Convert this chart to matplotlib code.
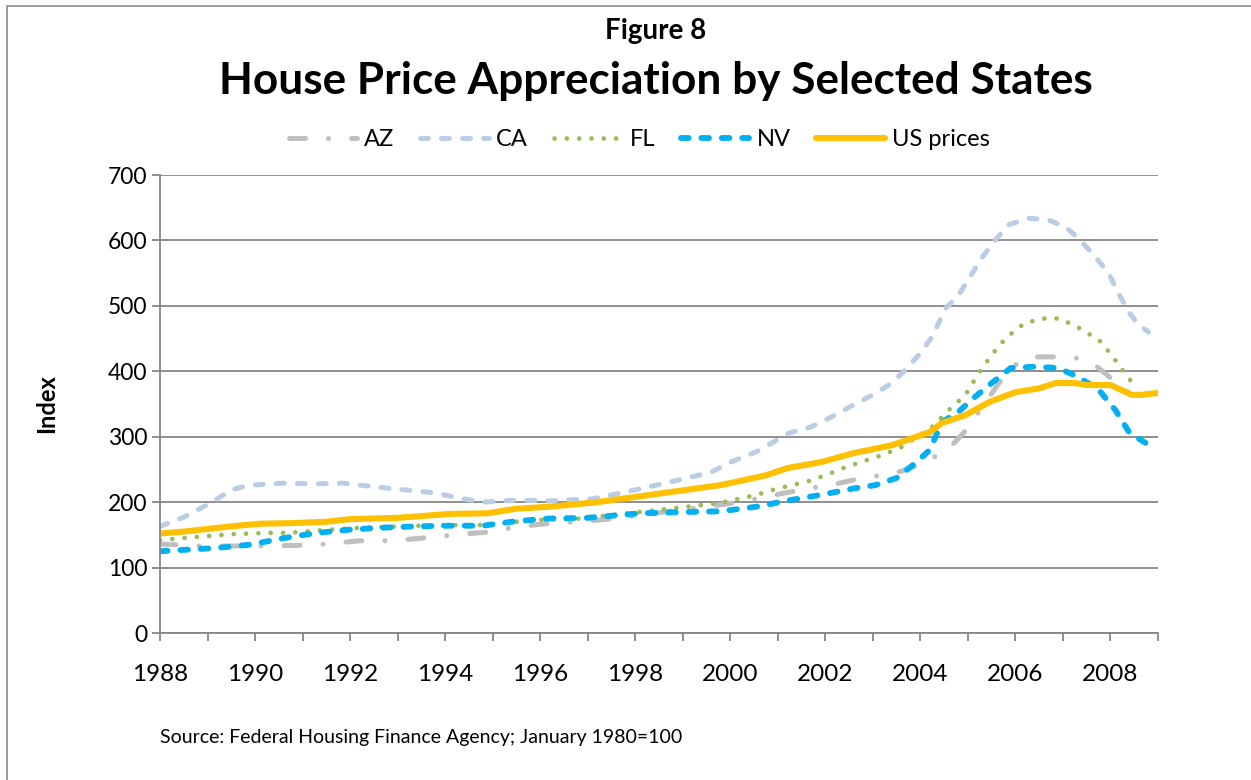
import matplotlib
matplotlib.use("Agg")
import matplotlib.pyplot as plt
from matplotlib.patches import Rectangle
from matplotlib.ticker import MultipleLocator

plt.rcParams['font.family'] = ['Lato', 'DejaVu Sans']

# --- data (index, January 1980 = 100) ---
az_x = [1988.0, 1988.85, 1989.5, 1990.15, 1990.9, 1991.5, 1992.2, 1992.9, 1993.5, 1994.2,
        1994.85, 1995.5, 1996.1, 1996.8, 1997.45, 1998.15, 1998.9, 1999.5, 2000.2, 2000.8,
        2001.5, 2002.1, 2002.6, 2003.5, 2004.1, 2004.65, 2005.0, 2005.15, 2005.45, 2005.8,
        2006.0, 2006.4, 2007.05, 2007.3, 2007.7, 2008.1, 2008.4, 2008.7]
az_y = [136, 133, 133, 133, 134, 136, 141, 141, 145, 150,
        154, 162, 167, 170, 174, 180, 188, 193, 200, 209,
        219, 226, 234, 245, 260, 286, 313, 330, 361, 397,
        410, 422, 422, 420, 408, 384, 367, 344]

ca_x = [1988.0, 1988.5, 1989.1, 1989.5, 1989.9, 1990.6, 1991.3, 1991.85, 1992.7, 1993.4,
        1993.8, 1994.3, 1994.8, 1995.5, 1996.2, 1997.1, 1997.7, 1998.45, 1999.1, 1999.6,
        2000.0, 2000.55, 2001.25, 2001.7, 2002.1, 2002.6, 2003.0, 2003.4, 2003.75, 2004.0,
        2004.25, 2004.53, 2004.81, 2005.05, 2005.3, 2005.58, 2005.86, 2006.28, 2006.7, 2007.05,
        2007.33, 2007.68, 2007.96, 2008.17, 2008.38, 2008.59, 2008.8]
ca_y = [163, 177, 200, 219, 226, 229, 228, 229, 222, 217,
        214, 206, 200, 203, 202, 205, 214, 226, 237, 246,
        261, 277, 306, 315, 329, 349, 364, 382, 407, 428,
        453, 496, 517, 545, 574, 601, 624, 634, 631, 621,
        603, 575, 550, 519, 491, 471, 460]

fl_x = [1988.0, 1988.8, 1989.5, 1990.25, 1990.7, 1991.2, 1992.0, 1992.7, 1993.45, 1994.15,
        1994.8, 1995.5, 1996.2, 1996.7, 1998.1, 1999.1, 1999.8, 2000.55, 2001.0, 2001.6,
        2002.0, 2002.45, 2002.7, 2003.2, 2003.6, 2004.25, 2004.6, 2004.95, 2005.2, 2005.5,
        2005.8, 2006.2, 2006.7, 2006.95, 2007.4, 2007.8, 2008.1, 2008.25, 2008.55]
fl_y = [142, 147, 151, 153, 153, 156, 160, 162, 164, 165,
        165, 170, 174, 174, 185, 193, 199, 211, 221, 231,
        241, 254, 260, 272, 284, 315, 341, 364, 394, 425,
        451, 474, 482, 480, 464, 445, 417, 402, 374]

nv_x = [1988.0, 1989.2, 1989.9, 1990.6, 1991.3, 1992.0, 1992.7, 1993.4, 1994.1, 1994.8,
        1995.5, 1996.2, 1997.0, 1998.1, 1999.1, 1999.8, 2000.55, 2001.25, 2001.9, 2002.6,
        2003.05, 2003.5, 2003.9, 2004.2, 2004.45, 2004.8, 2005.15, 2005.5, 2005.9, 2006.4,
        2006.9, 2007.3, 2007.75, 2008.1, 2008.4, 2008.75]
nv_y = [125, 130, 135, 145, 153, 158, 161, 163, 164, 164,
        171, 175, 176, 183, 185, 186, 193, 203, 211, 221,
        226, 237, 260, 280, 322, 338, 361, 382, 405, 407,
        405, 392, 372, 341, 306, 290]

us_x = [1988.0, 1988.5, 1989.0, 1989.5, 1990.1, 1990.8, 1991.5, 1992.0, 1993.0, 1994.1,
        1994.9, 1995.5, 1996.2, 1997.2, 1998.1, 1999.0, 1999.8, 2000.75, 2001.2, 2001.9,
        2002.6, 2003.4, 2004.2, 2004.45, 2004.95, 2005.45, 2006.0, 2006.5, 2006.85, 2007.25,
        2007.5, 2008.0, 2008.45, 2008.65, 2009.0]
us_y = [152, 155, 159, 163, 167, 168, 170, 174, 176, 182,
        183, 190, 193, 200, 209, 218, 226, 241, 252, 261,
        275, 287, 307, 321, 333, 353, 368, 374, 382, 382,
        379, 379, 364, 364, 367]

fig = plt.figure(figsize=(12.51, 7.8), dpi=100)
ax = fig.add_axes([160 / 1251, 1 - 633 / 780, 998 / 1251, 458 / 780])

# outer chart border
fig.patches.append(Rectangle((7 / 1251, -0.05), 1.1, 1 - 6 / 780 + 0.05,
                             transform=fig.transFigure, fill=False,
                             edgecolor='#8c8c8c', linewidth=1.2))

ax.plot(az_x, az_y, color='#BFBFBF', lw=3.6, dashes=(3.2, 4.6, 0.01, 4.6),
        dash_capstyle='round', label='AZ')
ax.plot(ca_x, ca_y, color='#B9CDE5', lw=3.6, dashes=(1.6, 2.6),
        dash_capstyle='round', label='CA')
ax.plot(fl_x, fl_y, color='#9BBB59', lw=3.4, dashes=(0.01, 2.6),
        dash_capstyle='round', label='FL')
ax.plot(nv_x, nv_y, color='#00B0F0', lw=4.2, dashes=(1.3, 2.2),
        dash_capstyle='round', label='NV')
ax.plot(us_x, us_y, color='#FFC000', lw=4.4, solid_capstyle='round', label='US prices')

ax.set_xlim(1988, 2009)
ax.set_ylim(0, 700)
ax.xaxis.set_major_locator(MultipleLocator(2))
ax.xaxis.set_minor_locator(MultipleLocator(1))
ax.yaxis.set_major_locator(MultipleLocator(100))
ax.grid(axis='y', color='#868686', lw=1.3)
ax.set_axisbelow(True)
for s in ['top', 'right']:
    ax.spines[s].set_visible(False)
for s in ['left', 'bottom']:
    ax.spines[s].set_color('#868686')
    ax.spines[s].set_linewidth(1.3)
ax.tick_params(which='both', direction='out', length=6, width=1.3, color='#868686')
ax.tick_params(axis='x', labelsize=17.5, pad=16)
ax.tick_params(axis='y', labelsize=16.5, pad=3)
ax.set_ylabel('Index', fontsize=17, fontweight='bold', labelpad=36)

fig.text(0.524, 1 - 31 / 780, 'Figure 8', ha='center', va='center',
         fontsize=20, fontweight='bold')
fig.text(0.524, 1 - 81 / 780, 'House Price Appreciation by Selected States',
         ha='center', va='center', fontsize=31.8, fontweight='bold')
fig.text(160 / 1251, 1 - 738 / 780, 'Source: Federal Housing Finance Agency; January 1980=100',
         ha='left', va='center', fontsize=14)

fig.legend(loc='center', bbox_to_anchor=(0.511, 1 - 140 / 780), ncol=5, frameon=False,
           fontsize=17, handlelength=2.9, handletextpad=0.3, columnspacing=1.1)

fig.savefig('out.png', dpi=100)
